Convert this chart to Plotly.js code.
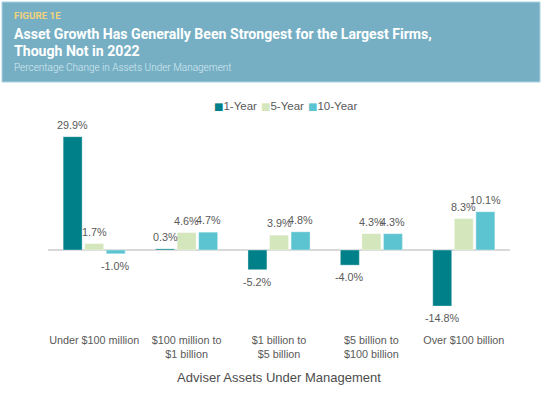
<!DOCTYPE html>
<html>
<head>
<meta charset="utf-8">
<script src="https://cdn.plot.ly/plotly-3.0.1.min.js"></script>
<style>html,body{margin:0;padding:0;background:#fff;}#chart{width:545px;height:396px;}</style>
</head>
<body>
<div id="chart"></div>
<script>
var categories = ["Under $100 million", "$100 million to<br>$1 billion", "$1 billion to<br>$5 billion", "$5 billion to<br>$100 billion", "Over $100 billion"];
var seriesNames = ["1-Year", "5-Year", "10-Year"];
var oneYear = [29.9, 0.3, -5.2, -4.0, -14.8];
var fiveYear = [1.7, 4.6, 3.9, 4.3, 8.3];
var tenYear = [-1.0, 4.7, 4.8, 4.3, 10.1];
var colors = ["#00818A", "#D4E6BB", "#5CC4D0"];

var W = 545, H = 396;
var mL = 48, mR = 35, mT = 120, mB = 76;
var pw = W - mL - mR, ph = H - mT - mB;
function px(x){ return (x - mL) / pw; }
function py(y){ return (H - mB - y) / ph; }

var labelFont = "Liberation Sans, Arial, sans-serif";
var bargap = 0.30;
var series = [oneYear, fiveYear, tenYear];
var traces = series.map(function(vals, i){
  return {
    type: "bar",
    name: seriesNames[i],
    x: categories,
    y: vals,
    marker: {color: colors[i], line: {color: "rgba(255,255,255,0.6)", width: 0.6}},
    hoverinfo: "skip",
    showlegend: false
  };
});

// value labels placed over each bar of the group
var slot = (pw / categories.length) * (1 - bargap) / series.length;
var valueAnn = [];
series.forEach(function(vals, i){
  vals.forEach(function(v, j){
    valueAnn.push({
      text: v.toFixed(1) + "%",
      xref: "x", yref: "y", x: categories[j], y: v,
      xshift: (i - 1) * slot, yshift: v >= 0 ? 12 : -12,
      xanchor: "center", yanchor: "middle", showarrow: false,
      font: {family: labelFont, size: 10.8, color: "#595959"}
    });
  });
});

// legend drawn as annotations (compact square markers like the reference)
var legendX = [212, 259, 306];
var legendAnn = seriesNames.map(function(n, i){
  return {
    text: '<span style="color:' + colors[i] + ';font-family:DejaVu Sans;font-size:10px">\u25A0</span>' + n,
    xref: "paper", yref: "paper", x: px(legendX[i]), y: py(106),
    xanchor: "left", yanchor: "middle", showarrow: false,
    font: {family: labelFont, size: 11.5, color: "#595959"}
  };
});

var layout = {
  width: W, height: H,
  margin: {l: mL, r: mR, t: mT, b: mB, pad: 0},
  paper_bgcolor: "#fff",
  plot_bgcolor: "#fff",
  barmode: "group",
  bargap: bargap,
  bargroupgap: 0.12,
  showlegend: false,
  xaxis: {
    type: "category",
    range: [-0.5, 4.5],
    showline: false, showgrid: false, zeroline: false,
    ticks: "outside", ticklen: 10, tickcolor: "rgba(0,0,0,0)",
    tickfont: {family: labelFont, size: 10.8, color: "#595959"},
    title: {text: "Adviser Assets Under Management", standoff: 13,
            font: {family: labelFont, size: 13, color: "#4d4d4d"}}
  },
  yaxis: {
    range: [-(H - mB - 250) / 3.79, (250 - mT) / 3.79],
    showticklabels: false, showgrid: false, showline: false,
    zeroline: true, zerolinecolor: "#d9d9d9", zerolinewidth: 1.5
  },
  shapes: [{
    type: "rect", xref: "paper", yref: "paper",
    x0: px(2), x1: px(540), y0: py(82), y1: py(2),
    fillcolor: "#76AFC4", line: {color: "#A9D2E0", width: 1}, layer: "below"
  }],
  annotations: [
    {text: "FIGURE 1E", xref: "paper", yref: "paper", x: px(12), y: py(15), xanchor: "left", yanchor: "middle",
     showarrow: false, font: {family: "Roboto, sans-serif", size: 9.8, color: "#F3D27C", weight: "bold"}},
    {text: "Asset Growth Has Generally Been Strongest for the Largest Firms,", xref: "paper", yref: "paper", x: px(12), y: py(34), xanchor: "left", yanchor: "middle",
     showarrow: false, font: {family: "Roboto, sans-serif", size: 14.1, color: "#ffffff", weight: "bold"}},
    {text: "Though Not in 2022", xref: "paper", yref: "paper", x: px(12), y: py(50.5), xanchor: "left", yanchor: "middle",
     showarrow: false, font: {family: "Roboto, sans-serif", size: 14.1, color: "#ffffff", weight: "bold"}},
    {text: "Percentage Change in Assets Under Management", xref: "paper", yref: "paper", x: px(12), y: py(67), xanchor: "left", yanchor: "middle",
     showarrow: false, font: {family: "Roboto, sans-serif", size: 10, color: "#D6EAF1", weight: 300}}
  ].concat(legendAnn).concat(valueAnn)
};

Plotly.newPlot("chart", traces, layout, {displayModeBar: false, staticPlot: true});
</script>
</body>
</html>
